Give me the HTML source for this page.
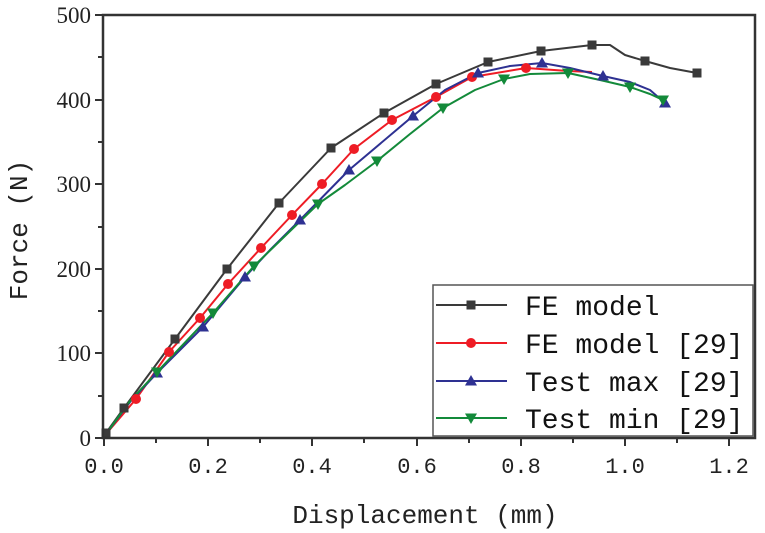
<!DOCTYPE html>
<html><head><meta charset="utf-8"><style>body{margin:0;background:#fff}svg{display:block}</style></head><body>
<svg width="765" height="533" xmlns="http://www.w3.org/2000/svg">
<defs>
<rect id="sq" x="-4.5" y="-4.5" width="9" height="9" fill="#3a3a3a"/>
<circle id="ci" r="5" fill="#ee1c25"/>
<polygon id="tu" points="0,-6 6,4.5 -6,4.5" fill="#2e3192"/>
<polygon id="td" points="0,6 6,-4.5 -6,-4.5" fill="#138a3a"/>
</defs>
<g fill="none" stroke-width="2" stroke-linejoin="round">
<polyline stroke="#3a3a3a" points="106,433 124,408 175,339 227,269 279,203 331,148 384,113 436,84 488,62 541,51 592,45 610,45 625,55 645,61 670,68 697,73"/>
<polyline stroke="#ee1c25" points="106,434 136,399 169,352 200,318 228,284 261,248 292,215 322,184 354,149 392,120 436,97 472,77 526,68 568,71 592,72"/>
<polyline stroke="#2e3192" points="106,434 130,402 157,373 203,327 245,277 270,250 300,220 349,170 413,116 445,90 478,73 510,66 542,63 570,68 603,76 630,82 650,90 665,103"/>
<polyline stroke="#138a3a" points="106,434 130,401 157,372 213,313 254,266 285,236 318,204 345,185 377,161 410,134 443,108 475,90 504,79 530,74 568,73 600,80 630,87 650,94 663,100"/>
</g>
<g>
<use href="#sq" x="106" y="433"/><use href="#sq" x="124" y="408"/><use href="#sq" x="175" y="339"/><use href="#sq" x="227" y="269"/><use href="#sq" x="279" y="203"/><use href="#sq" x="331" y="148"/><use href="#sq" x="384" y="113"/><use href="#sq" x="436" y="84"/><use href="#sq" x="488" y="62"/><use href="#sq" x="541" y="51"/><use href="#sq" x="592" y="45"/><use href="#sq" x="645" y="61"/><use href="#sq" x="697" y="73"/>
<use href="#ci" x="136" y="399"/><use href="#ci" x="169" y="352"/><use href="#ci" x="200" y="318"/><use href="#ci" x="228" y="284"/><use href="#ci" x="261" y="248"/><use href="#ci" x="292" y="215"/><use href="#ci" x="322" y="184"/><use href="#ci" x="354" y="149"/><use href="#ci" x="392" y="120"/><use href="#ci" x="436" y="97"/><use href="#ci" x="472" y="77"/><use href="#ci" x="526" y="68"/>
<use href="#tu" x="157" y="373"/><use href="#tu" x="203" y="327"/><use href="#tu" x="245" y="277"/><use href="#tu" x="300" y="220"/><use href="#tu" x="349" y="170"/><use href="#tu" x="413" y="116"/><use href="#tu" x="478" y="73"/><use href="#tu" x="542" y="63"/><use href="#tu" x="603" y="76"/><use href="#tu" x="665" y="103"/>
<use href="#td" x="157" y="372"/><use href="#td" x="213" y="313"/><use href="#td" x="254" y="266"/><use href="#td" x="318" y="204"/><use href="#td" x="377" y="161"/><use href="#td" x="443" y="108"/><use href="#td" x="504" y="79"/><use href="#td" x="568" y="73"/><use href="#td" x="630" y="87"/><use href="#td" x="663" y="100"/>
</g>
<rect x="103" y="15" width="652" height="423" fill="none" stroke="#333" stroke-width="2.5"/>
<g stroke="#333" stroke-width="2">
<line x1="104" y1="438" x2="104" y2="446"/><line x1="156" y1="438" x2="156" y2="443"/><line x1="208" y1="438" x2="208" y2="446"/><line x1="260" y1="438" x2="260" y2="443"/><line x1="312" y1="438" x2="312" y2="446"/><line x1="364" y1="438" x2="364" y2="443"/><line x1="417" y1="438" x2="417" y2="446"/><line x1="469" y1="438" x2="469" y2="443"/><line x1="521" y1="438" x2="521" y2="446"/><line x1="573" y1="438" x2="573" y2="443"/><line x1="625" y1="438" x2="625" y2="446"/><line x1="677" y1="438" x2="677" y2="443"/><line x1="729" y1="438" x2="729" y2="446"/>
<line x1="95" y1="15" x2="103" y2="15"/><line x1="98" y1="57" x2="103" y2="57"/><line x1="95" y1="100" x2="103" y2="100"/><line x1="98" y1="142" x2="103" y2="142"/><line x1="95" y1="184" x2="103" y2="184"/><line x1="98" y1="227" x2="103" y2="227"/><line x1="95" y1="269" x2="103" y2="269"/><line x1="98" y1="311" x2="103" y2="311"/><line x1="95" y1="353" x2="103" y2="353"/><line x1="98" y1="396" x2="103" y2="396"/><line x1="95" y1="438" x2="103" y2="438"/>
</g>
<g font-family="Liberation Serif, serif" font-size="23" fill="#222" text-anchor="end">
<text x="91" y="23">500</text><text x="91" y="108">400</text><text x="91" y="192">300</text><text x="91" y="277">200</text><text x="91" y="361">100</text><text x="91" y="446">0</text>
</g>
<g font-family="Liberation Mono, monospace" font-size="22" fill="#222" text-anchor="middle">
<text x="104" y="473">0.0</text><text x="208" y="473">0.2</text><text x="312" y="473">0.4</text><text x="417" y="473">0.6</text><text x="521" y="473">0.8</text><text x="625" y="473">1.0</text><text x="729" y="473">1.2</text>
</g>
<text x="425" y="523" font-family="Liberation Mono, monospace" font-size="26" fill="#222" text-anchor="middle">Displacement (mm)</text>
<text transform="translate(27,230) rotate(-90)" font-family="Liberation Mono, monospace" font-size="26" fill="#222" text-anchor="middle">Force (N)</text>
<rect x="433" y="285" width="320" height="151" fill="#fff" stroke="#555" stroke-width="1.5"/>
<g stroke-width="2">
<line x1="436" y1="305" x2="507" y2="305" stroke="#3a3a3a"/><line x1="436" y1="343" x2="507" y2="343" stroke="#ee1c25"/><line x1="436" y1="381" x2="507" y2="381" stroke="#2e3192"/><line x1="436" y1="418" x2="507" y2="418" stroke="#138a3a"/>
</g>
<use href="#sq" x="471" y="305"/><use href="#ci" x="471" y="343"/><use href="#tu" x="471" y="381"/><use href="#td" x="471" y="418"/>
<g font-family="Liberation Mono, monospace" font-size="28" fill="#111">
<text x="525" y="315">FE model</text><text x="525" y="353">FE model [29]</text><text x="525" y="391">Test max [29]</text><text x="525" y="428">Test min [29]</text>
</g>
</svg>
</body></html>
